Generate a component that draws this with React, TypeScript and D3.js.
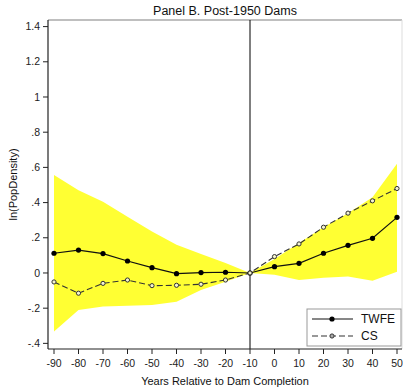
import React from "react";
import * as d3 from "d3";

const years = [-90, -80, -70, -60, -50, -40, -30, -20, -10, 0, 10, 20, 30, 40, 50];
const twfe = [0.112, 0.13, 0.11, 0.068, 0.03, -0.004, 0.002, 0.004, 0, 0.036, 0.055, 0.112, 0.157, 0.197, 0.316];
const cs = [-0.051, -0.115, -0.059, -0.04, -0.072, -0.07, -0.064, -0.04, 0, 0.093, 0.165, 0.26, 0.34, 0.41, 0.48];
const ciUpper = [0.557, 0.47, 0.405, 0.32, 0.235, 0.16, 0.108, 0.056, 0, 0.08, 0.17, 0.26, 0.34, 0.43, 0.62];
const ciLower = [-0.333, -0.21, -0.19, -0.186, -0.182, -0.163, -0.097, -0.05, 0, -0.01, -0.04, -0.027, -0.02, -0.044, 0.007];
const yTicks = [-0.4, -0.2, 0, 0.2, 0.4, 0.6, 0.8, 1, 1.2, 1.4];
const xTicks = years;

const W = 403, H = 389;
const left = 48, right = 402, top = 20, bottom = 349;
const font = "Liberation Sans, Arial, Helvetica, sans-serif";

const fmtY = (v: number) => {
  if (Math.abs(v) < 1e-9) return "0";
  let s = String(Math.round(v * 10) / 10);
  s = s.replace(/^0\./, ".").replace(/^-0\./, "-.");
  return s;
};

export default function App() {
  const x = d3.scaleLinear().domain([-92.45, 52.04]).range([left, right]);
  const y = d3.scaleLinear().domain([-0.432, 1.4375]).range([bottom, top]);
  const idx = years.map((_, i) => i);
  const area = d3.area<number>().x((i) => x(years[i])).y0((i) => y(ciLower[i])).y1((i) => y(ciUpper[i]));
  const lineT = d3.line<number>().x((i) => x(years[i])).y((i) => y(twfe[i]));
  const lineC = d3.line<number>().x((i) => x(years[i])).y((i) => y(cs[i]));
  const cx = (left + right) / 2;

  return (
    <svg width={W} height={H} style={{ position: "absolute", left: 0, top: 0, background: "#fff" }} fontFamily={font}>
      <rect x={0} y={0} width={W} height={H} fill="#fff" />
      <path d={area(idx) || ""} fill="#ffff33" />
      {/* frame */}
      <line x1={left} x2={right} y1={top} y2={top} stroke="#aaa" strokeWidth={1.5} />
      <line x1={right} x2={right} y1={top} y2={bottom} stroke="#ddd" strokeWidth={1} />
      <line x1={x(-10)} x2={x(-10)} y1={top} y2={bottom} stroke="#000" strokeWidth={1} />
      <path d={lineT(idx) || ""} fill="none" stroke="#111" strokeWidth={1.2} />
      <path d={lineC(idx) || ""} fill="none" stroke="#333" strokeWidth={1.1} strokeDasharray="6,3" />
      {idx.map((i) => (
        <circle key={"t" + i} cx={x(years[i])} cy={y(twfe[i])} r={2.6} fill="#000" />
      ))}
      {idx.map((i) => (
        <circle key={"c" + i} cx={x(years[i])} cy={y(cs[i])} r={2.1} fill="#f4f4d0" stroke="#333" strokeWidth={1} />
      ))}
      {/* axes */}
      <line x1={left} x2={left} y1={top} y2={bottom} stroke="#222" strokeWidth={1.2} />
      <line x1={left} x2={right} y1={bottom} y2={bottom} stroke="#222" strokeWidth={1.2} />
      {yTicks.map((t) => (
        <g key={"y" + t}>
          <line x1={left - 5} x2={left} y1={y(t)} y2={y(t)} stroke="#222" />
          <text x={left - 8} y={y(t)} dy="0.35em" textAnchor="end" fontSize={10.5} fill="#222">{fmtY(t)}</text>
        </g>
      ))}
      {xTicks.map((t) => (
        <g key={"x" + t}>
          <line x1={x(t)} x2={x(t)} y1={bottom} y2={bottom + 5} stroke="#222" />
          <text x={x(t)} y={bottom + 18} textAnchor="middle" fontSize={10.5} fill="#222">{t}</text>
        </g>
      ))}
      <text x={cx} y={15} textAnchor="middle" fontSize={12.5} fill="#111">Panel B. Post-1950 Dams</text>
      <text x={cx} y={385} textAnchor="middle" fontSize={11} fill="#111">Years Relative to Dam Completion</text>
      <text transform={`translate(17,${(top + bottom) / 2}) rotate(-90)`} textAnchor="middle" fontSize={11} fill="#111">ln(PopDensity)</text>
      {/* legend */}
      <rect x={307} y={309} width={94} height={37} fill="#fff" stroke="#999" strokeWidth={1} />
      <line x1={312} x2={353} y1={319} y2={319} stroke="#111" strokeWidth={1.2} />
      <circle cx={332} cy={319} r={2.6} fill="#000" />
      <line x1={312} x2={353} y1={336} y2={336} stroke="#333" strokeWidth={1.1} strokeDasharray="6,3" />
      <circle cx={332} cy={336} r={2.1} fill="#aaa" stroke="#333" strokeWidth={1} />
      <text x={361} y={319} dy="0.35em" fontSize={12} fill="#111">TWFE</text>
      <text x={361} y={336} dy="0.35em" fontSize={12} fill="#111">CS</text>
    </svg>
  );
}
